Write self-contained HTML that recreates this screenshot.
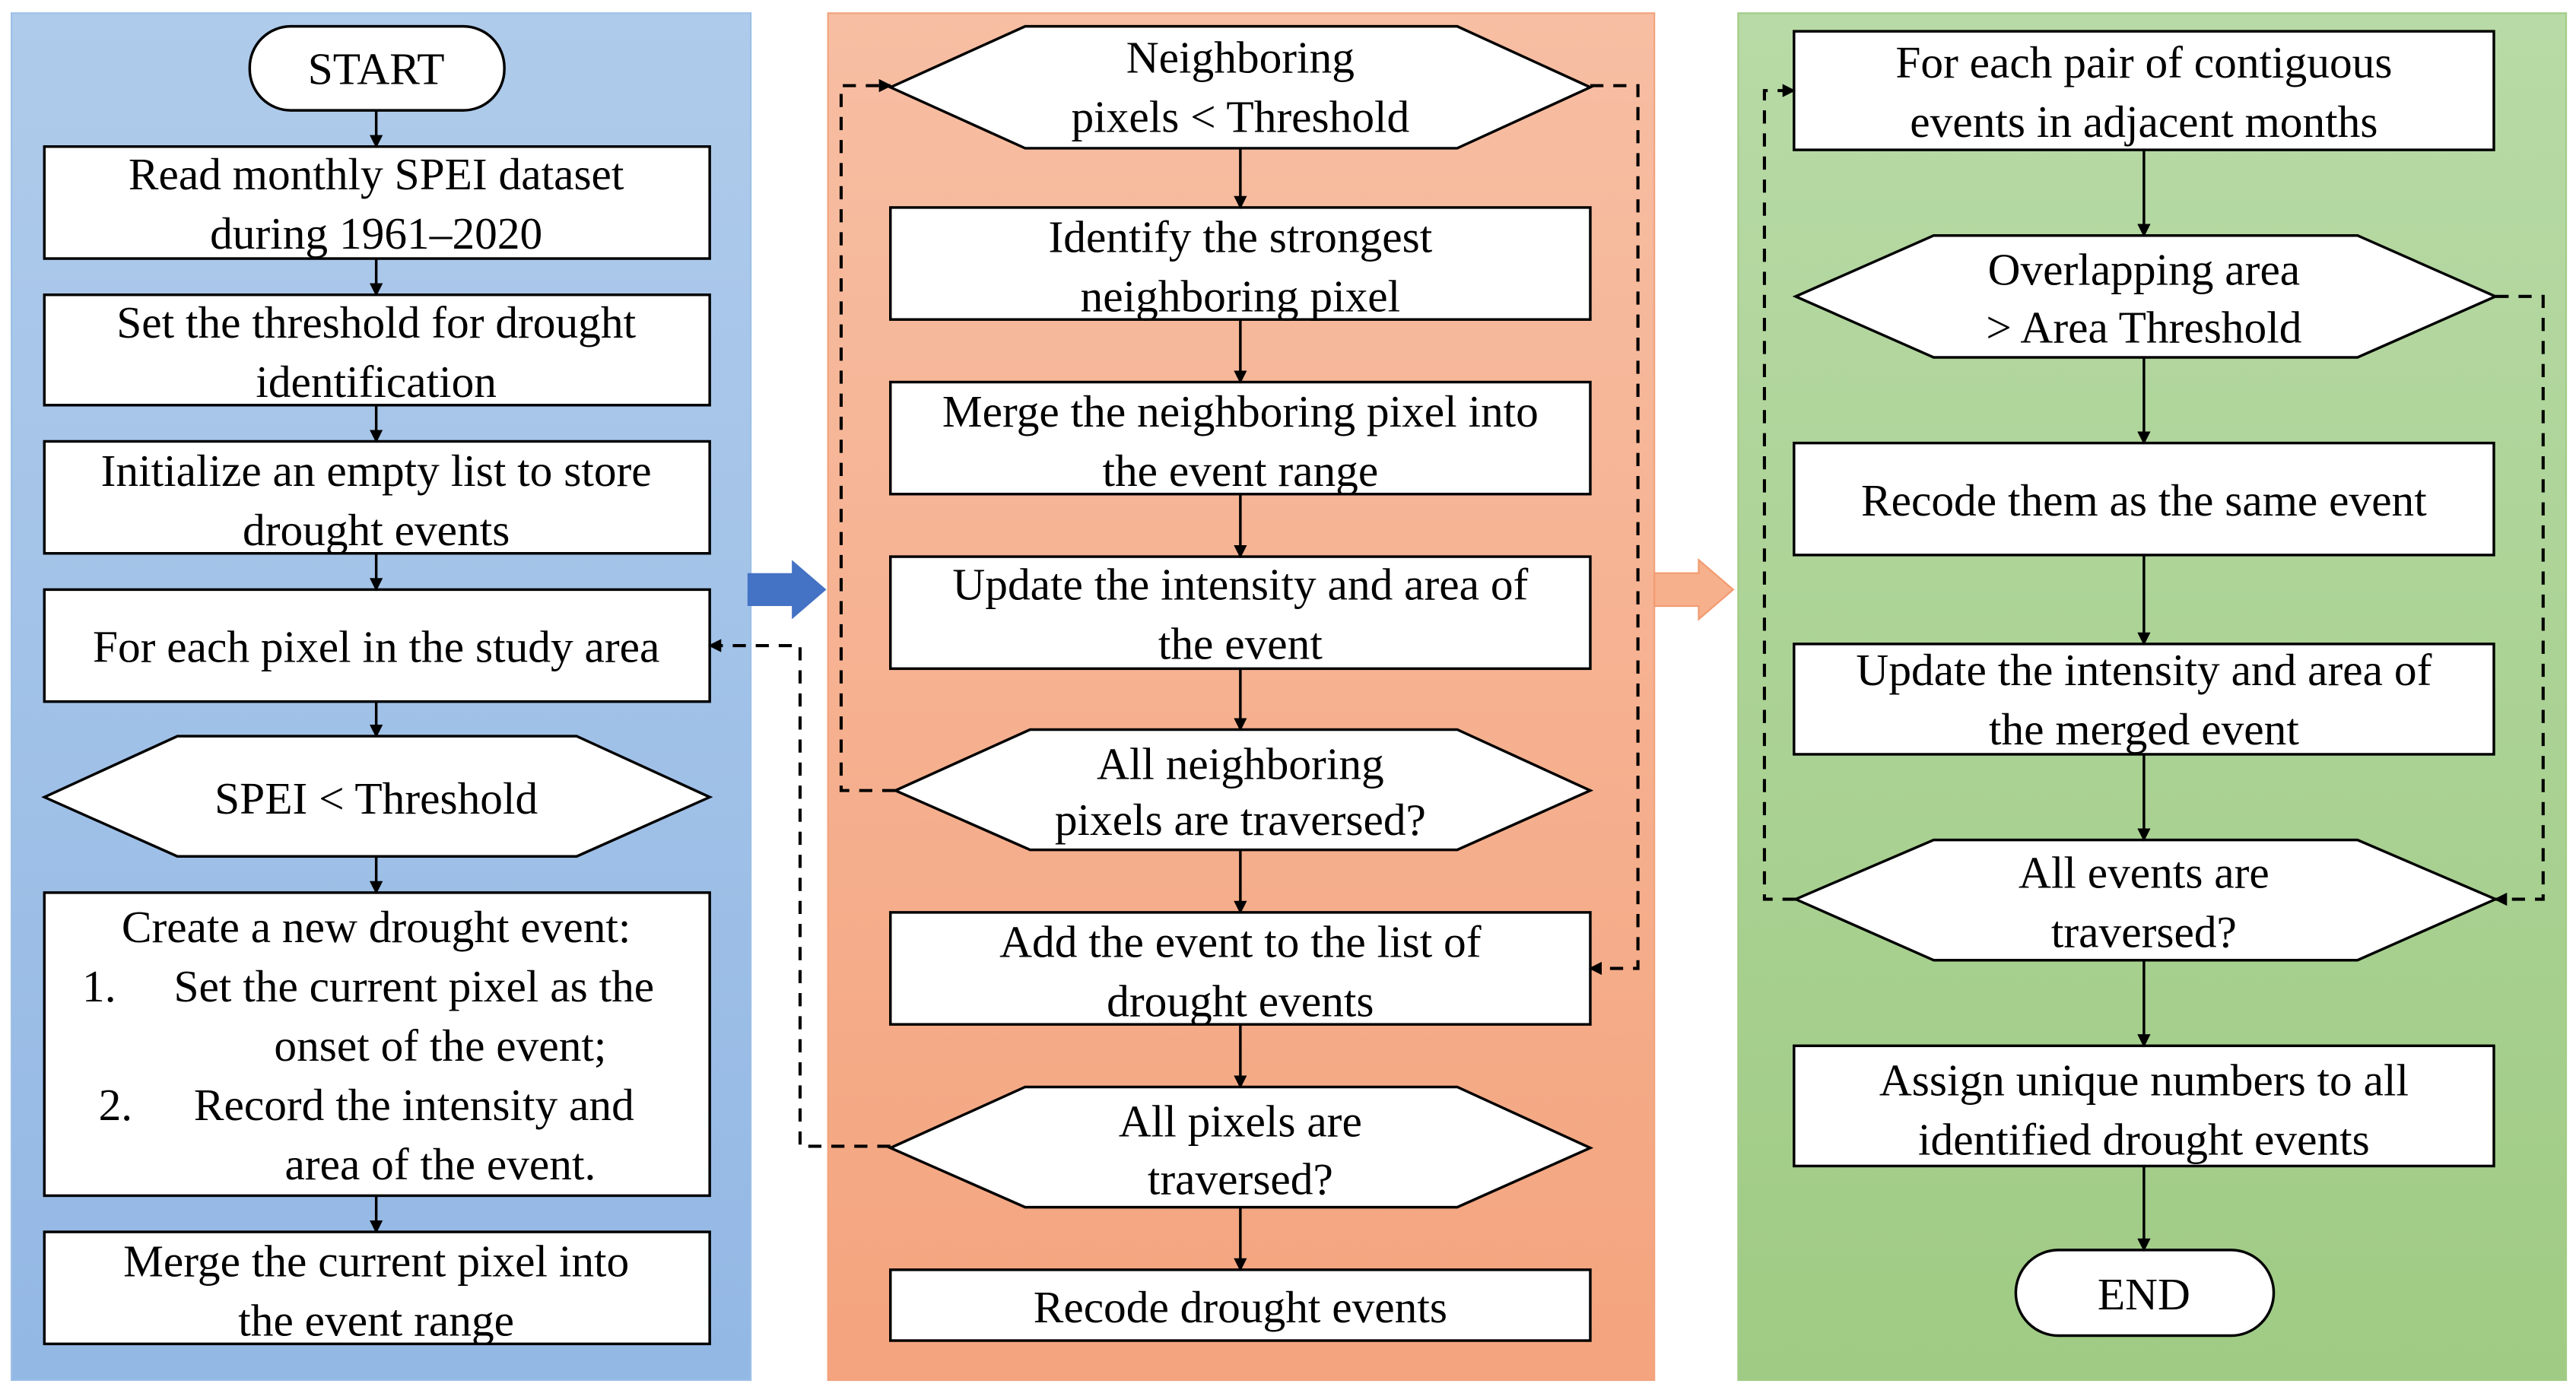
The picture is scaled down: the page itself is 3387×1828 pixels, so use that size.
<!DOCTYPE html>
<html><head><meta charset="utf-8"><style>
html,body{margin:0;padding:0;background:#fff;}
svg{display:block;}
svg text{font-family:"Liberation Serif","Times New Roman",Times,"Nimbus Roman","DejaVu Serif",serif;font-size:27.5px;fill:#000;text-anchor:middle;}
</style></head><body>
<svg width="3387" height="1828" viewBox="0 0 1568 844" preserveAspectRatio="none" xmlns="http://www.w3.org/2000/svg">
<defs>
<linearGradient id="gb" x1="0" y1="0" x2="0" y2="1"><stop offset="0" stop-color="#afcbeb"/><stop offset="1" stop-color="#93b8e4"/></linearGradient>
<linearGradient id="go" x1="0" y1="0" x2="0" y2="1"><stop offset="0" stop-color="#f7bea3"/><stop offset="1" stop-color="#f4a47e"/></linearGradient>
<linearGradient id="gg" x1="0" y1="0" x2="0" y2="1"><stop offset="0" stop-color="#b8daa6"/><stop offset="1" stop-color="#9fcb84"/></linearGradient>
<marker id="a" markerWidth="8" markerHeight="8" refX="7" refY="4" orient="auto" markerUnits="userSpaceOnUse"><path d="M0,0 L8,4 L0,8 z" fill="#000"/></marker>
</defs>
<rect x="7" y="8" width="450" height="830" fill="url(#gb)" stroke="#9cbfe6"/>
<rect x="504" y="8" width="503" height="830" fill="url(#go)" stroke="#f2a27c"/>
<rect x="1058" y="8" width="504" height="830" fill="url(#gg)" stroke="#a2cc87"/>
<path d="M455,348 H482 V340 L503,358 L482,376 V368 H455 z" fill="#4472c4"/>
<path d="M1007,348 H1034 V340 L1055,358 L1034,376 V368 H1007 z" fill="#f7b08c" stroke="#f29b70" stroke-width="1"/>
<g fill="#fff" stroke="#000" stroke-width="1.6">
<rect x="152" y="16" width="155" height="51" rx="25"/>
<rect x="27" y="89" width="405" height="68"/>
<rect x="27" y="179" width="405" height="67"/>
<rect x="27" y="268" width="405" height="68"/>
<rect x="27" y="358" width="405" height="68"/>
<polygon points="27,484 108,447 351,447 432,484 351,520 108,520"/>
<rect x="27" y="542" width="405" height="184"/>
<rect x="27" y="748" width="405" height="68"/>
<polygon points="542,53 624,16 887,16 968,53 887,90 624,90"/>
<rect x="542" y="126" width="426" height="68"/>
<rect x="542" y="232" width="426" height="68"/>
<rect x="542" y="338" width="426" height="68"/>
<polygon points="545,480 627,443 887,443 968,480 887,516 627,516"/>
<rect x="542" y="554" width="426" height="68"/>
<polygon points="542,697 624,660 887,660 968,697 887,733 624,733"/>
<rect x="542" y="771" width="426" height="43"/>
<rect x="1092" y="19" width="426" height="72"/>
<polygon points="1093,180 1177,143 1435,143 1519,180 1435,217 1177,217"/>
<rect x="1092" y="269" width="426" height="68"/>
<rect x="1092" y="391" width="426" height="67"/>
<polygon points="1093,546 1177,510 1435,510 1519,546 1435,583 1177,583"/>
<rect x="1092" y="635" width="426" height="73"/>
<rect x="1227" y="759" width="157" height="52" rx="26"/>
</g>
<g stroke="#000" stroke-width="1.6" fill="none" marker-end="url(#a)">
<line x1="229" y1="67" x2="229" y2="89"/>
<line x1="229" y1="157" x2="229" y2="179"/>
<line x1="229" y1="246" x2="229" y2="268"/>
<line x1="229" y1="336" x2="229" y2="358"/>
<line x1="229" y1="426" x2="229" y2="447"/>
<line x1="229" y1="520" x2="229" y2="542"/>
<line x1="229" y1="726" x2="229" y2="748"/>
<line x1="755" y1="90" x2="755" y2="126"/>
<line x1="755" y1="194" x2="755" y2="232"/>
<line x1="755" y1="300" x2="755" y2="338"/>
<line x1="755" y1="406" x2="755" y2="443"/>
<line x1="755" y1="516" x2="755" y2="554"/>
<line x1="755" y1="622" x2="755" y2="660"/>
<line x1="755" y1="733" x2="755" y2="771"/>
<line x1="1305" y1="91" x2="1305" y2="143"/>
<line x1="1305" y1="217" x2="1305" y2="269"/>
<line x1="1305" y1="337" x2="1305" y2="391"/>
<line x1="1305" y1="458" x2="1305" y2="510"/>
<line x1="1305" y1="583" x2="1305" y2="635"/>
<line x1="1305" y1="708" x2="1305" y2="759"/>
</g>
<g stroke="#000" stroke-width="1.9" fill="none" stroke-dasharray="8,6" marker-end="url(#a)">
<polyline points="545,480 512,480 512,52 542,52"/>
<polyline points="968,52 997,52 997,588 968,588"/>
<polyline points="542,696 487,696 487,392 432,392"/>
<polyline points="1519,180 1548,180 1548,546 1519,546"/>
<polyline points="1093,546 1074,546 1074,55 1092,55"/>
</g>
<g>
<text x="229" y="51">START</text>
<text x="229" y="115">Read monthly SPEI dataset</text>
<text x="229" y="151">during 1961–2020</text>
<text x="229" y="205">Set the threshold for drought</text>
<text x="229" y="241">identification</text>
<text x="229" y="295">Initialize an empty list to store</text>
<text x="229" y="331">drought events</text>
<text x="229" y="402">For each pixel in the study area</text>
<text x="229" y="494">SPEI &lt; Threshold</text>
<text x="229" y="572">Create a new drought event:</text>
<text x="50" y="608" style="text-anchor:start">1.</text>
<text x="252" y="608">Set the current pixel as the</text>
<text x="268" y="644">onset of the event;</text>
<text x="60" y="680" style="text-anchor:start">2.</text>
<text x="252" y="680">Record the intensity and</text>
<text x="268" y="716">area of the event.</text>
<text x="229" y="775">Merge the current pixel into</text>
<text x="229" y="811">the event range</text>
<text x="755" y="44">Neighboring</text>
<text x="755" y="80">pixels &lt; Threshold</text>
<text x="755" y="153">Identify the strongest</text>
<text x="755" y="189">neighboring pixel</text>
<text x="755" y="259">Merge the neighboring pixel into</text>
<text x="755" y="295">the event range</text>
<text x="755" y="364">Update the intensity and area of</text>
<text x="755" y="400">the event</text>
<text x="755" y="473">All neighboring</text>
<text x="755" y="507">pixels are traversed?</text>
<text x="755" y="581">Add the event to the list of</text>
<text x="755" y="617">drought events</text>
<text x="755" y="690">All pixels are</text>
<text x="755" y="725">traversed?</text>
<text x="755" y="803">Recode drought events</text>
<text x="1305" y="47">For each pair of contiguous</text>
<text x="1305" y="83">events in adjacent months</text>
<text x="1305" y="173">Overlapping area</text>
<text x="1305" y="208">&gt; Area Threshold</text>
<text x="1305" y="313">Recode them as the same event</text>
<text x="1305" y="416">Update the intensity and area of</text>
<text x="1305" y="452">the merged event</text>
<text x="1305" y="539">All events are</text>
<text x="1305" y="575">traversed?</text>
<text x="1305" y="665">Assign unique numbers to all</text>
<text x="1305" y="701">identified drought events</text>
<text x="1305" y="795">END</text>
</g>
</svg>
</body></html>
